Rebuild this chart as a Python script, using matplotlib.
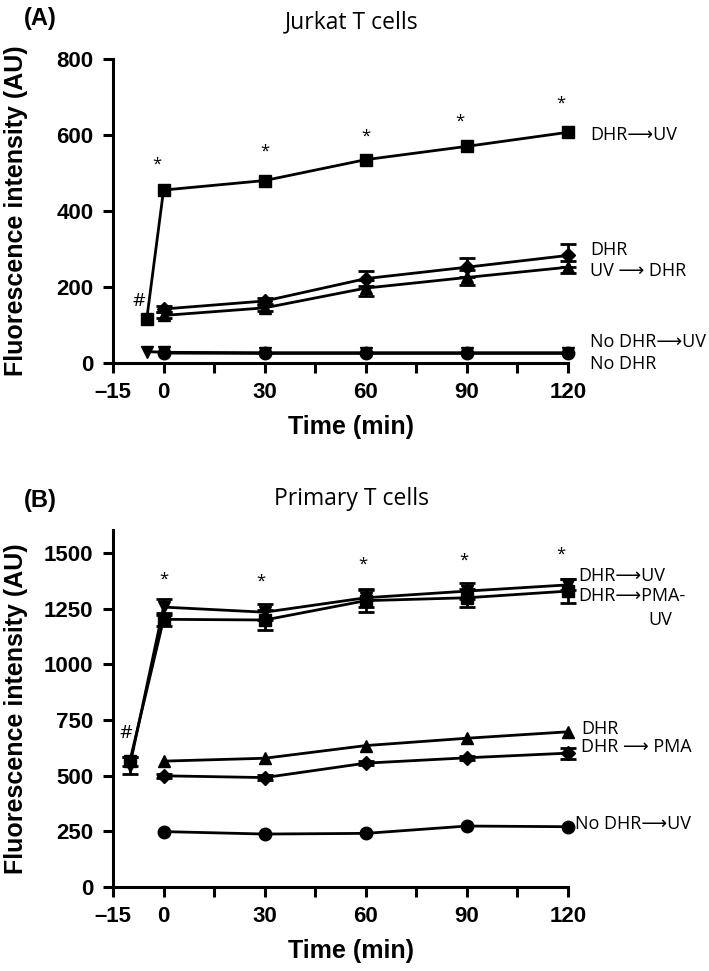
import matplotlib
matplotlib.use('Agg')
import matplotlib.pyplot as plt

# Panel A: Jurkat T cells
a_time_uv = [-5, 0, 30, 60, 90, 120]
a_dhr_uv = [115, 455, 480, 535, 570, 607]
a_time = [0, 30, 60, 90, 120]
a_dhr = [142, 163, 222, 252, 283]
a_dhr_err = [8, 8, 20, 25, 30]
a_uv_dhr = [125, 145, 197, 225, 252]
a_uv_dhr_err = [8, 8, 20, 20, 15]
a_nodhr_uv = [30, 28, 27, 27, 27, 27]
a_nodhr = [26, 25, 25, 25, 25]
a_star_y = [522, 556, 596, 635, 683]

# Panel B: Primary T cells
b_time_pre = [-10, 0, 30, 60, 90, 120]
b_dhr_uv = [545, 1258, 1235, 1300, 1330, 1358]
b_dhr_uv_err = [40, 35, 35, 40, 35, 25]
b_dhr_pma_uv = [565, 1203, 1200, 1287, 1300, 1330]
b_dhr_pma_uv_err = [20, 30, 45, 50, 40, 55]
b_time = [0, 30, 60, 90, 120]
b_dhr = [565, 578, 635, 668, 697]
b_dhr_pma = [499, 491, 556, 580, 601]
b_dhr_pma_err = [10, 10, 10, 10, 25]
b_nodhr_uv = [248, 237, 240, 273, 270]
b_star_y = [1382, 1372, 1450, 1468, 1494]

x_ticks = [-15, 0, 15, 30, 45, 60, 75, 90, 105, 120]
x_labels = ['\u201315', '0', '', '30', '', '60', '', '90', '', '120']

plt.rcParams['font.family'] = ['Liberation Sans', 'DejaVu Sans']
ann_font = ['Open Sans', 'DejaVu Sans']
arrow = '\u27f6'

fig = plt.figure(figsize=(7.09, 9.71), dpi=100)
axA = fig.add_axes([0.1594, 0.6262, 0.6417, 0.3131])
axB = fig.add_axes([0.1594, 0.0868, 0.6417, 0.3674])

lw = 2
ms = 9
err_kw = dict(color='black', lw=lw, capsize=6, capthick=lw, elinewidth=lw, clip_on=False)


def style_axis(ax, yticks, ylim, ax_h_px):
    ax.set_xlim(-15, 120)
    ax.set_ylim(*ylim)
    ax.set_xticks(x_ticks)
    ax.set_xticklabels(x_labels)
    ax.set_yticks(yticks)
    for s in ['top', 'right']:
        ax.spines[s].set_visible(False)
    for s in ['left', 'bottom']:
        ax.spines[s].set_linewidth(2.2)
    ax.tick_params(width=2.2, length=7, labelsize=16, pad=7)
    for lab in ax.get_xticklabels() + ax.get_yticklabels():
        lab.set_fontweight('bold')
    ax.set_ylabel('Fluorescence intensity (AU)', fontsize=18, fontweight='bold')
    ax.yaxis.set_label_coords(-0.186, 0.5)
    ax.set_xlabel('Time (min)', fontsize=18, fontweight='bold')
    ax.xaxis.set_label_coords(0.523, -52 / ax_h_px)


# ---- Panel A ----
axA.errorbar(a_time_uv, a_dhr_uv, marker='s', ms=ms, **err_kw)
axA.errorbar(a_time, a_dhr, yerr=a_dhr_err, marker='D', ms=7, **err_kw)
axA.errorbar(a_time, a_uv_dhr, yerr=a_uv_dhr_err, marker='^', ms=ms, **err_kw)
axA.errorbar(a_time_uv, a_nodhr_uv, marker='v', ms=ms, **err_kw)
axA.errorbar(a_time, a_nodhr, marker='o', ms=ms, **err_kw)
style_axis(axA, [0, 200, 400, 600, 800], (0, 800), 304)

star_x = [-2, 30, 60, 88, 118]
for x, y in zip(star_x, a_star_y):
    axA.text(x, y, '*', ha='center', va='center', fontsize=12, family=ann_font)
axA.text(-7.2, 163, '#', ha='center', va='center', fontsize=14, family=ann_font)
lab_x = 126.5
fs = 13
axA.text(lab_x, 600, 'DHR' + arrow + 'UV', fontsize=fs, va='center', family=ann_font, clip_on=False)
axA.text(lab_x, 297, 'DHR', fontsize=fs, va='center', family=ann_font, clip_on=False)
axA.text(lab_x, 243, 'UV ' + arrow + ' DHR', fontsize=fs, va='center', family=ann_font, clip_on=False)
axA.text(lab_x, 56, 'No DHR' + arrow + 'UV', fontsize=fs, va='center', family=ann_font, clip_on=False)
axA.text(lab_x, -3, 'No DHR', fontsize=fs, va='center', family=ann_font, clip_on=False)
fig.text(0.4965, 1 - 22 / 971, 'Jurkat T cells', fontsize=16.5, family=ann_font, ha='center', va='center')
fig.text(0.0564, 1 - 18 / 971, '(A)', fontsize=17, fontweight='bold', ha='center', va='center')

# ---- Panel B ----
axB.errorbar(b_time_pre, b_dhr_pma_uv, yerr=b_dhr_pma_uv_err, marker='s', ms=ms, **err_kw)
axB.errorbar(b_time_pre, b_dhr_uv, yerr=b_dhr_uv_err, marker='v', ms=ms, **err_kw)
axB.errorbar(b_time, b_dhr, marker='^', ms=ms, **err_kw)
axB.errorbar(b_time, b_dhr_pma, yerr=b_dhr_pma_err, marker='D', ms=7, **err_kw)
axB.errorbar(b_time, b_nodhr_uv, marker='o', ms=ms, **err_kw)
style_axis(axB, [0, 250, 500, 750, 1000, 1250, 1500], (0, 1605), 357)

star_xb = [0, 29, 59, 89, 118]
for x, y in zip(star_xb, b_star_y):
    axB.text(x, y, '*', ha='center', va='center', fontsize=12, family=ann_font)
axB.text(-11.3, 692, '#', ha='center', va='center', fontsize=14, family=ann_font)
axB.text(123, 1398, 'DHR' + arrow + 'UV', fontsize=fs, va='center', family=ann_font, clip_on=False)
axB.text(123, 1309, 'DHR' + arrow + 'PMA-', fontsize=fs, va='center', family=ann_font, clip_on=False)
axB.text(144, 1200, 'UV', fontsize=fs, va='center', family=ann_font, clip_on=False)
axB.text(123.9, 708, 'DHR', fontsize=fs, va='center', family=ann_font, clip_on=False)
axB.text(123.9, 627, 'DHR ' + arrow + ' PMA', fontsize=fs, va='center', family=ann_font, clip_on=False)
axB.text(122.1, 281, 'No DHR' + arrow + 'UV', fontsize=fs, va='center', family=ann_font, clip_on=False)
fig.text(0.4958, 1 - 499 / 971, 'Primary T cells', fontsize=16.5, family=ann_font, ha='center', va='center')
fig.text(0.0564, 1 - 500 / 971, '(B)', fontsize=17, fontweight='bold', ha='center', va='center')

fig.savefig('out.png', dpi=100)
